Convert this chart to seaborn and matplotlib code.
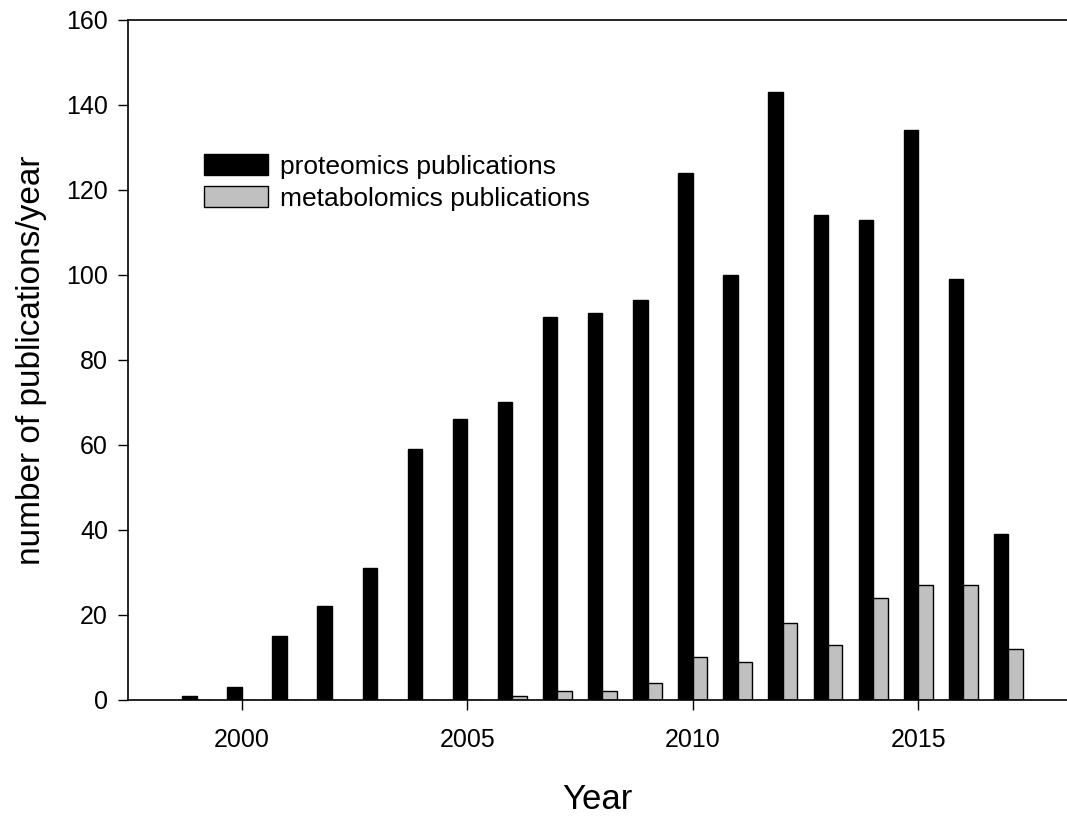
import pandas as pd
import seaborn as sns
import matplotlib.pyplot as plt

years = list(range(1999, 2018))
proteomics = [1, 3, 15, 22, 31, 59, 66, 70, 90, 91, 94, 124, 100, 143, 114, 113, 134, 99, 39]
metabolomics = [0, 0, 0, 0, 0, 0, 0, 1, 2, 2, 4, 10, 9, 18, 13, 24, 27, 27, 12]
series = ["proteomics publications", "metabolomics publications"]

df = pd.DataFrame({
    "Year": years * 2,
    "count": proteomics + metabolomics,
    "kind": [series[0]] * len(years) + [series[1]] * len(years),
})

sns.set_style("white")
plt.rcParams['font.family'] = ['Liberation Sans', 'DejaVu Sans']
plt.rcParams['text.color'] = 'black'
plt.rcParams['axes.labelcolor'] = 'black'
plt.rcParams['xtick.color'] = 'black'
plt.rcParams['ytick.color'] = 'black'

fig = plt.figure(figsize=(10.67, 8.16), dpi=100)
ax = fig.add_axes([0.1200, 0.1422, 0.8800, 0.8333])

sns.barplot(data=df, x="Year", y="count", hue="kind", native_scale=True,
            palette={series[0]: "black", series[1]: "#c0c0c0"},
            width=0.64, edgecolor="black", linewidth=1, saturation=1, ax=ax)

ax.set_xlim(1997.48, 2018.3)
ax.set_ylim(0, 160)
ax.set_xticks([2000, 2005, 2010, 2015])
ax.set_yticks(range(0, 161, 20))
ax.tick_params(axis='both', direction='out', length=7.5, width=1, labelsize=18,
               bottom=True, left=True, colors='black')
ax.tick_params(axis='x', pad=13)
ax.tick_params(axis='y', pad=7)

for s in ["left", "top", "bottom"]:
    ax.spines[s].set_visible(True)
    ax.spines[s].set_color("black")
    ax.spines[s].set_linewidth(1.2)
ax.spines["right"].set_visible(False)

ax.set_xlabel("Year", fontsize=25, labelpad=22)
ax.set_ylabel("number of publications/year", fontsize=24, labelpad=14)

ax.legend(title=None, frameon=False, fontsize=19,
          loc="upper left", bbox_to_anchor=(0.056, 0.838),
          handlelength=2.4, handleheight=0.85, handletextpad=0.45,
          labelspacing=0.28)

fig.savefig("out.png", dpi=100)
